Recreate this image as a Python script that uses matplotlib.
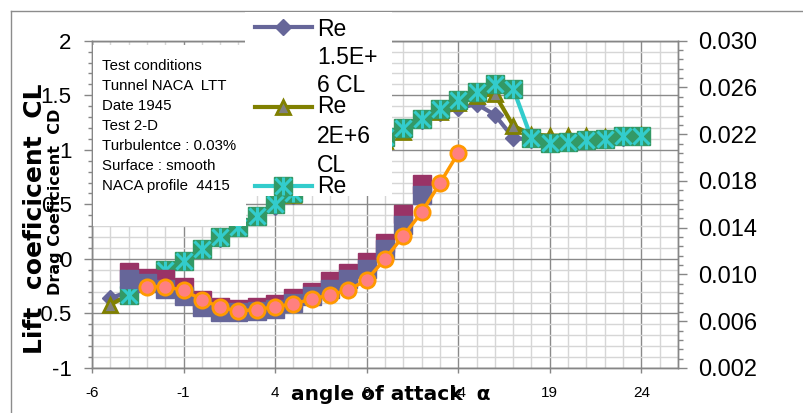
import numpy as np
import matplotlib
matplotlib.use("Agg")
import matplotlib.pyplot as plt
from matplotlib.lines import Line2D
from matplotlib.patches import Rectangle
from matplotlib.ticker import FixedLocator, FuncFormatter

plt.rcParams['font.family'] = ['Liberation Sans', 'DejaVu Sans']
plt.rcParams['axes.unicode_minus'] = False

# ---------------- data ----------------
nan = np.nan
alpha_cl = list(range(-5, 25))
cl_re15 = [-0.36, -0.30, -0.20, -0.10, -0.03, 0.08, 0.18, 0.28, 0.38, 0.48,
           0.58, 0.68, 0.78, 0.88, 0.98, 1.07, 1.19, 1.26, 1.34, 1.38,
           1.42, 1.32, 1.11, 1.09, 1.06, 1.07, 1.08, 1.09, 1.11, 1.12]
cl_re2 = [-0.42, -0.33, -0.22, -0.11, -0.03, 0.08, 0.19, 0.28, 0.38, 0.49,
          0.59, 0.69, 0.79, 0.89, 0.99, 1.08, 1.16, 1.27, 1.35, 1.43,
          1.49, 1.51, 1.22, 1.14, 1.13, 1.13, 1.13, 1.12, 1.13, 1.14]
cl_re3 = [nan, -0.33, -0.21, -0.10, -0.02, 0.09, 0.20, 0.29, 0.39, 0.50,
          0.60, 0.70, 0.80, 0.90, 1.00, 1.12, 1.20, 1.28, 1.37, 1.46,
          1.53, 1.60, 1.56, 1.105, 1.065, 1.07, 1.09, 1.10, 1.13, 1.13]

alpha_cd = list(range(-4, 13))
cd_a = [0.01017, 0.00974, 0.00960, 0.00897, 0.00783, 0.00718, 0.00703, 0.00726,
        0.00746, 0.00795, 0.00854, 0.00940, 0.01014, 0.01109, 0.01268, 0.01516, 0.01772]
cd_b = [0.00960, 0.00931, 0.00874, 0.00818, 0.00724, 0.00681, 0.00675, 0.00690,
        0.00703, 0.00754, 0.00818, 0.00880, 0.00960, 0.01050, 0.01216, 0.01425, 0.01678]
alpha_cd_c = list(range(-3, 15))
cd_c = [0.00896, 0.00896, 0.00864, 0.00786, 0.00718, 0.00688, 0.00700, 0.00724,
        0.00748, 0.00790, 0.00825, 0.00867, 0.00953, 0.01133, 0.01330, 0.01532,
        0.01780, 0.02040]

x_ticks = [-6, -1, 4, 9, 14, 19, 24]
cl_ticks = [-1, -0.5, 0, 0.5, 1, 1.5, 2]
cd_ticks = [0.002, 0.006, 0.010, 0.014, 0.018, 0.022, 0.026, 0.030]

legend_lines = [["Re", "1.5E+", "6 CL"], ["Re", "2E+6", "CL"], ["Re"]]
info_lines = ["Test conditions", "Tunnel NACA  LTT", "Date 1945", "Test 2-D",
              "Turbulentce : 0.03%", "Surface : smooth", "NACA profile  4415"]

# ---------------- layout ----------------
W, H = 804, 413
fig = plt.figure(figsize=(W / 100, H / 100), dpi=100)
fig.patch.set_facecolor('white')


def fx(px):
    return px / W


def fy(py):
    return 1 - py / H


GRAY = '#868686'
ax = fig.add_axes([fx(92), fy(368), fx(678) - fx(92), fy(40.7) - fy(368)])
ax2 = ax.twinx()

ax.set_xlim(-6, 26)
ax.set_ylim(-1, 2)
ax.set_xticks(x_ticks)
ax.xaxis.set_major_formatter(FuncFormatter(lambda v, p: f"{v:g}"))
ax.xaxis.set_minor_locator(FixedLocator(np.arange(-6, 27, 1)))
ax.set_yticks(cl_ticks)
ax.yaxis.set_minor_locator(FixedLocator(np.arange(-1, 2.001, 0.1)))
ax.yaxis.set_major_formatter(FuncFormatter(lambda v, p: f"{v:g}"))
ax.set_axisbelow(True)
ax.grid(which='major', color='#8a8a8a', lw=1.0)
ax.grid(which='minor', color='#d6d6d6', lw=1.0)
ax.tick_params(axis='x', which='major', direction='out', length=3.6, width=1,
               color=GRAY, labelsize=11, pad=9.5)
ax.tick_params(axis='x', which='minor', length=0)
ax.tick_params(axis='y', which='major', direction='out', length=6, width=1,
               color=GRAY, labelsize=16, pad=8.6)
ax.tick_params(axis='y', which='minor', direction='out', length=3, width=1,
               color=GRAY)

ax2.set_ylim(0.002, 0.030)
ax2.set_yticks(cd_ticks)
ax2.yaxis.set_minor_locator(FixedLocator(np.arange(0.002, 0.03001, 0.0008)))
ax2.yaxis.set_major_formatter(FuncFormatter(lambda v, p: f"{v:.3f}"))
ax2.tick_params(axis='y', which='major', direction='out', length=6.5, width=1,
                color=GRAY, labelsize=17, pad=8)
ax2.tick_params(axis='y', which='minor', direction='out', length=3.6, width=1,
                color=GRAY)
for a in (ax, ax2):
    for s in a.spines.values():
        s.set_color(GRAY)
        s.set_linewidth(1)

# ---------------- CL series (left axis) ----------------
ax.plot(alpha_cl, cl_re15, color='#666699', lw=3, marker='D', ms=8.5,
        mfc='#666699', mec='#666699', zorder=3)
ax.plot(alpha_cl, cl_re2, color='#808000', lw=3, marker='^', ms=10,
        mfc='#808080', mec='#808000', mew=2, zorder=4)
ax.plot(alpha_cl, cl_re3, color='#33CCCC', lw=3, zorder=5)
ax.plot(alpha_cl, cl_re3, ls='none', marker='s', ms=12.5, mfc='#339966',
        mec='#339966', mew=1, zorder=6)
ax.plot(alpha_cl, cl_re3, ls='none', marker='x', ms=12, mec='#33CCCC',
        mew=2.2, zorder=7)
ax.plot(alpha_cl, cl_re3, ls='none', marker='|', ms=13, mec='#33CCCC',
        mew=2.2, zorder=7)

# ---------------- CD series (right axis) ----------------
ax2.plot(alpha_cd, cd_a, ls='none', marker='s', ms=12.5, mfc='#993366',
         mec='#993366', mew=1, zorder=3)
ax2.plot(alpha_cd, cd_b, ls='none', marker='s', ms=12.5, mfc='#666699',
         mec='#666699', mew=1, zorder=4)
ax2.plot(alpha_cd_c, cd_c, color='#FF9900', lw=2.5, marker='o', ms=11,
         mfc='#FF8080', mec='#FF9900', mew=2, zorder=5)

# ---------------- chart frame ----------------
fig.add_artist(Line2D([fx(11), fx(11)], [fy(11), fy(413)], color='#8c8c8c',
                      lw=1, transform=fig.transFigure))
fig.add_artist(Line2D([fx(11), fx(804)], [fy(11), fy(11)], color='#8c8c8c',
                      lw=1, transform=fig.transFigure))

# ---------------- info text box ----------------
fig.add_artist(Rectangle((fx(93), fy(226)), fx(246) - fx(93), fy(45) - fy(226),
                         transform=fig.transFigure, facecolor='white',
                         edgecolor='none', zorder=5))
for i, s in enumerate(info_lines):
    fig.text(fx(102), fy(70 + 20 * i), s, fontsize=10.8, ha='left',
             va='baseline', zorder=6)

# ---------------- legend ----------------
fig.add_artist(Rectangle((fx(245), fy(196)), fx(392) - fx(245), fy(12) - fy(196),
                         transform=fig.transFigure, facecolor='white',
                         edgecolor='none', zorder=5))
handle_y = [27, 107, 186]
text_base = [[36, 64.3, 91.7], [113.3, 143.3, 171.7], [193.3]]
styles = [
    dict(color='#666699', marker='D', ms=8.5, mfc='#666699', mec='#666699'),
    dict(color='#808000', marker='^', ms=10, mfc='#808080', mec='#808000', mew=2),
    dict(color='#33CCCC', marker='s', ms=12.5, mfc='#339966', mec='#339966'),
]
for k, (hy, st) in enumerate(zip(handle_y, styles)):
    fig.add_artist(Line2D([fx(255), fx(312)], [fy(hy), fy(hy)], lw=3,
                          color=st['color'], transform=fig.transFigure, zorder=6))
    mk = {kk: v for kk, v in st.items() if kk != 'color'}
    fig.add_artist(Line2D([fx(283)], [fy(hy)], ls='none', transform=fig.transFigure,
                          zorder=7, **mk))
    if k == 2:
        fig.add_artist(Line2D([fx(283)], [fy(hy)], ls='none', marker='x', ms=12,
                              mec='#33CCCC', mew=2.2, transform=fig.transFigure, zorder=8))
        fig.add_artist(Line2D([fx(283)], [fy(hy)], ls='none', marker='|', ms=13,
                              mec='#33CCCC', mew=2.2, transform=fig.transFigure, zorder=8))
    for s, b in zip(legend_lines[k], text_base[k]):
        fig.text(fx(317), fy(b), s, fontsize=16.5, ha='left', va='baseline', zorder=8)

# ---------------- axis titles ----------------
fig.text(fx(35), fy(219), "Lift  coeficicent  CL", rotation=90, ha='center',
         va='center', fontsize=18, fontweight='bold', family='DejaVu Sans', zorder=9)
fig.text(fx(56), fy(202), "Drag Coeficicent  CD", rotation=90, ha='center',
         va='center', fontsize=11.5, fontweight='bold', family='DejaVu Sans', zorder=9)
fig.text(fx(391), fy(395), "angle of attack  \u03b1", ha='center', va='center',
         fontsize=14.5, fontweight='bold', family='DejaVu Sans', zorder=9)

fig.savefig("out.png", dpi=100)
